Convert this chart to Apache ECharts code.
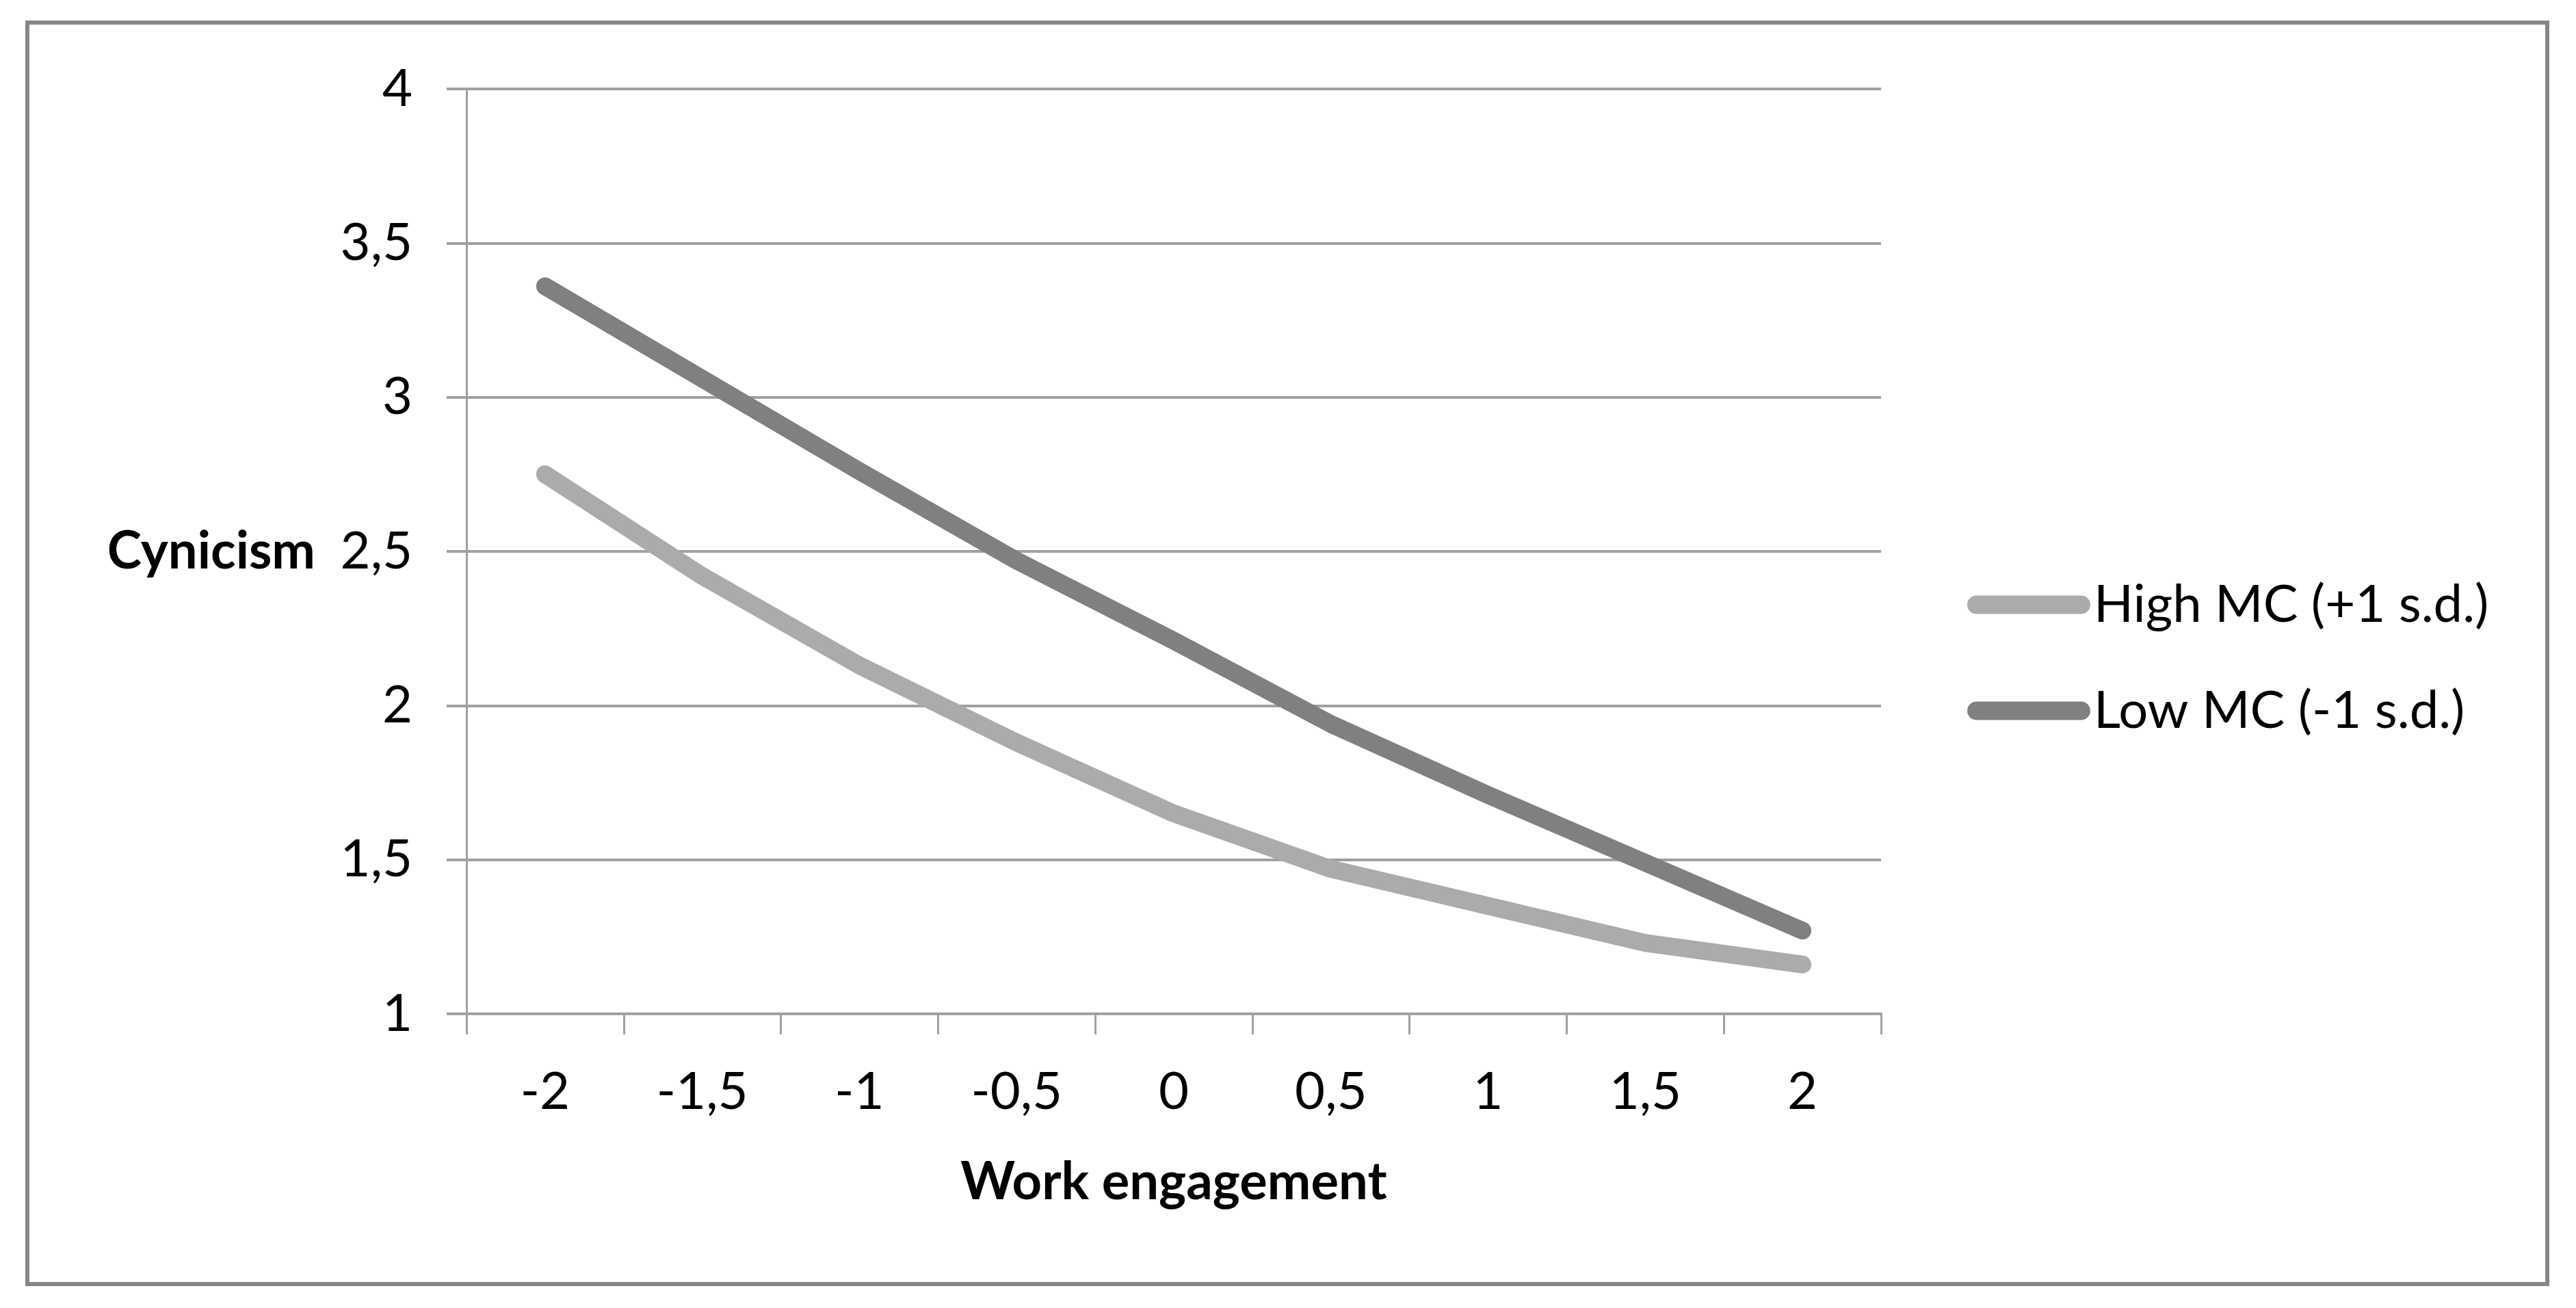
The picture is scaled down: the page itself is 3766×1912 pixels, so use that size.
<!DOCTYPE html>
<html>
<head>
<meta charset="utf-8">
<script src="https://cdn.jsdelivr.net/npm/echarts@6/dist/echarts.min.js"></script>
<style>
html,body{margin:0;padding:0;background:#fff;}
#chart{width:3766px;height:1912px;}
</style>
</head>
<body>
<div id="chart"></div>
<script>
// ---- data ----
const categories = ['-2', '-1,5', '-1', '-0,5', '0', '0,5', '1', '1,5', '2'];
const highMC = [2.75, 2.42, 2.13, 1.88, 1.65, 1.47, 1.35, 1.23, 1.16];
const lowMC  = [3.36, 3.06, 2.76, 2.47, 2.21, 1.94, 1.71, 1.49, 1.27];
const seriesNames = ['High MC (+1 s.d.)', 'Low MC (-1 s.d.)'];
const yTickLabels = { '1': '1', '1.5': '1,5', '2': '2', '2.5': '2,5', '3': '3', '3.5': '3,5', '4': '4' };
const xAxisTitle = 'Work engagement';
const yAxisTitle = 'Cynicism';

const FONT = 'Lato';
const gridColor = '#a0a0a0';
const pill = 'path://M13.5,0 H166.5 A13.5,13.5 0 0 1 166.5,27 H13.5 A13.5,13.5 0 0 1 13.5,0 Z';

const chart = echarts.init(document.getElementById('chart'), null, { renderer: 'canvas' });
chart.setOption({
  backgroundColor: '#ffffff',
  animation: false,
  textStyle: { fontFamily: FONT },
  graphic: [{
    type: 'rect',
    shape: { x: 40, y: 33, width: 3684, height: 1844 },
    style: { fill: 'none', stroke: '#868686', lineWidth: 6 },
    silent: true
  }],
  grid: { left: 682, top: 130, right: 1016, bottom: 430, containLabel: false },
  legend: {
    orient: 'vertical',
    left: 2871,
    top: 841,
    itemWidth: 180,
    itemHeight: 27,
    itemGap: 79,
    textStyle: { fontFamily: FONT, fontSize: 76, color: '#000', lineHeight: 74 },
    data: [
      { name: seriesNames[0], icon: pill, itemStyle: { color: '#ababab' } },
      { name: seriesNames[1], icon: pill, itemStyle: { color: '#808080' } }
    ]
  },
  xAxis: {
    type: 'category',
    data: categories,
    boundaryGap: true,
    name: xAxisTitle,
    nameLocation: 'middle',
    nameGap: 208,
    nameTextStyle: { fontFamily: FONT, fontSize: 76, fontWeight: 'bold', color: '#000' },
    axisLine: { show: true, lineStyle: { color: gridColor, width: 4 } },
    axisTick: { show: true, alignWithLabel: false, length: 30, lineStyle: { color: gridColor, width: 3 } },
    axisLabel: { fontFamily: FONT, fontSize: 76, color: '#000', margin: 76 },
    splitLine: { show: false }
  },
  yAxis: {
    type: 'value',
    min: 1,
    max: 4,
    interval: 0.5,
    name: yAxisTitle,
    nameLocation: 'middle',
    nameRotate: 0,
    nameGap: 221,
    nameTextStyle: { fontFamily: FONT, fontSize: 76, fontWeight: 'bold', color: '#000', padding: [14, 0, 0, 0] },
    axisLine: { show: true, lineStyle: { color: gridColor, width: 3 } },
    axisTick: { show: true, length: 29, lineStyle: { color: gridColor, width: 4 } },
    axisLabel: {
      fontFamily: FONT, fontSize: 76, color: '#000', margin: 79,
      formatter: v => yTickLabels[String(v)] !== undefined ? yTickLabels[String(v)] : String(v).replace('.', ',')
    },
    splitLine: { show: true, lineStyle: { color: gridColor, width: 4 } }
  },
  series: [
    {
      name: seriesNames[0], type: 'line', data: highMC, smooth: false,
      symbol: 'none', color: '#ababab',
      lineStyle: { color: '#ababab', width: 26, cap: 'round', join: 'round' }
    },
    {
      name: seriesNames[1], type: 'line', data: lowMC, smooth: false,
      symbol: 'none', color: '#808080',
      lineStyle: { color: '#808080', width: 26, cap: 'round', join: 'round' }
    }
  ]
});
</script>
</body>
</html>
